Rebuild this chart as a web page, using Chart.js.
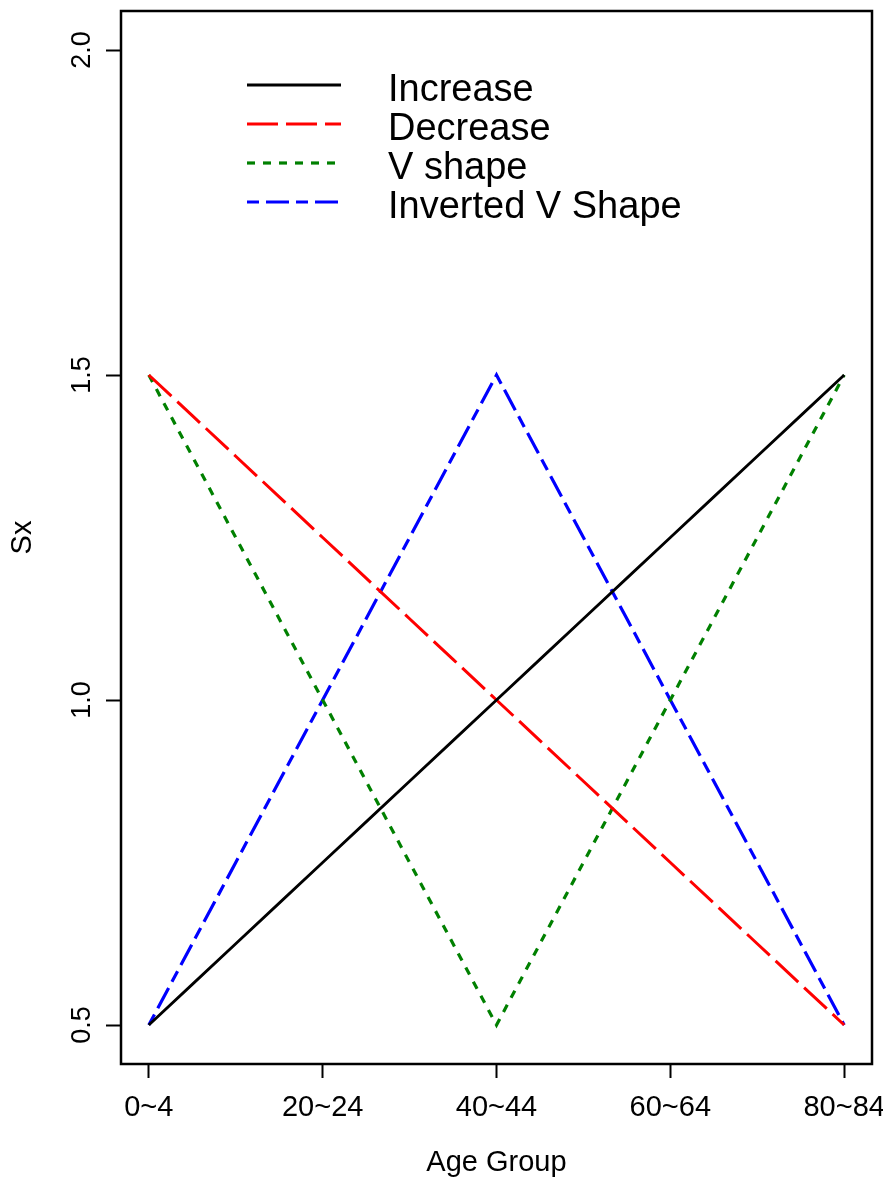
<!DOCTYPE html>
<html>
<head>
<meta charset="utf-8">
<script src="https://cdn.jsdelivr.net/npm/chart.js@4"></script>
<style>
  body { margin: 0; background: #fff; }
  canvas { display: block; }
</style>
</head>
<body>
<canvas id="grafica" width="883" height="1177"></canvas>
<script>
// age groups 0~4 ... 80~84
var ageGroups = ['0~4', '5~9', '10~14', '15~19', '20~24', '25~29', '30~34', '35~39', '40~44',
                 '45~49', '50~54', '55~59', '60~64', '65~69', '70~74', '75~79', '80~84'];
var xTickPos = [0, 4, 8, 12, 16];
var yTickVals = [0.5, 1.0, 1.5, 2.0];
var yTickLabels = ['0.5', '1.0', '1.5', '2.0'];

var seriesNames = ['Increase', 'Decrease', 'V shape', 'Inverted V Shape'];
var increase = [0.5, 0.5625, 0.625, 0.6875, 0.75, 0.8125, 0.875, 0.9375, 1.0,
                1.0625, 1.125, 1.1875, 1.25, 1.3125, 1.375, 1.4375, 1.5];
var decrease = [1.5, 1.4375, 1.375, 1.3125, 1.25, 1.1875, 1.125, 1.0625, 1.0,
                0.9375, 0.875, 0.8125, 0.75, 0.6875, 0.625, 0.5625, 0.5];
var vShape = [1.5, 1.375, 1.25, 1.125, 1.0, 0.875, 0.75, 0.625, 0.5,
              0.625, 0.75, 0.875, 1.0, 1.125, 1.25, 1.375, 1.5];
var invertedV = [0.5, 0.625, 0.75, 0.875, 1.0, 1.125, 1.25, 1.375, 1.5,
                 1.375, 1.25, 1.125, 1.0, 0.875, 0.75, 0.625, 0.5];

var fuente = 'Liberation Sans, Arial, Helvetica, sans-serif';

function puntos(valores){
    return valores.map(function(v, i){ return {x: i, y: v}; });
}

// no extra room for labels sticking out past the plot box
function sinRelleno(s){
    s.paddingTop = 0;
    s.paddingBottom = 0;
    s.paddingLeft = 0;
    s.paddingRight = 0;
}

// R style box around the plot area
var caja = {
    id: 'caja',
    afterDraw: function(chart){
        var a = chart.chartArea;
        var c = chart.ctx;
        c.save();
        c.strokeStyle = '#000';
        c.lineWidth = 2.5;
        c.strokeRect(a.left, a.top, a.right - a.left, a.bottom - a.top);
        c.restore();
    }
};

// legend drawn like R's legend(): line sample + text
var leyenda = {
    id: 'leyenda',
    afterDraw: function(chart){
        var c = chart.ctx;
        c.save();
        chart.data.datasets.forEach(function(ds, i){
            var y = 85 + i * 39;
            c.beginPath();
            c.strokeStyle = ds.borderColor;
            c.lineWidth = ds.borderWidth;
            c.setLineDash(ds.borderDash || []);
            c.moveTo(247, y);
            c.lineTo(341, y);
            c.stroke();
            c.setLineDash([]);
            c.fillStyle = '#000';
            c.font = '38px ' + fuente;
            c.textBaseline = 'middle';
            c.textAlign = 'left';
            c.fillText(ds.label, 388, y + 6);
        });
        c.restore();
    }
};

var ctx = document.getElementById('grafica').getContext('2d');
var config = {
    type: 'line',
    data: {
        datasets: [{
            label: seriesNames[0],
            data: puntos(increase),
            borderColor: '#000000',
            borderWidth: 2.8,
            borderDash: []
        }, {
            label: seriesNames[1],
            data: puntos(decrease),
            borderColor: '#ff0000',
            borderWidth: 3,
            borderDash: [31, 8]
        }, {
            label: seriesNames[2],
            data: puntos(vShape),
            borderColor: '#008000',
            borderWidth: 3.2,
            borderDash: [8, 8]
        }, {
            label: seriesNames[3],
            data: puntos(invertedV),
            borderColor: '#0000ff',
            borderWidth: 3.2,
            borderDash: [12, 7, 23, 7]
        }]
    },
    options: {
        responsive: false,
        animation: false,
        devicePixelRatio: 1,
        layout: { padding: { top: 11, right: 11, left: 0, bottom: 0 } },
        elements: {
            point: { radius: 0 },
            line: { tension: 0, borderCapStyle: 'butt', fill: false }
        },
        plugins: {
            legend: { display: false },
            tooltip: { enabled: false }
        },
        scales: {
            x: {
                type: 'linear',
                min: -0.64,
                max: 16.64,
                afterBuildTicks: function(s){
                    s.ticks = xTickPos.map(function(v){ return {value: v}; });
                },
                afterFit: function(s){ s.height = 113; sinRelleno(s); },
                ticks: {
                    autoSkip: false,
                    maxRotation: 0,
                    padding: 13,
                    color: '#000',
                    font: { family: fuente, size: 29 },
                    callback: function(v){ return ageGroups[v]; }
                },
                grid: {
                    drawOnChartArea: false,
                    drawTicks: true,
                    tickLength: 14,
                    tickWidth: 2,
                    tickColor: '#000'
                },
                border: { display: false },
                title: {
                    display: true,
                    text: 'Age Group',
                    color: '#000',
                    font: { family: fuente, size: 29, lineHeight: 1 },
                    padding: { top: 0, bottom: 0 }
                }
            },
            y: {
                type: 'linear',
                min: 0.44,
                max: 2.06,
                afterBuildTicks: function(s){
                    s.ticks = yTickVals.map(function(v){ return {value: v}; });
                },
                afterFit: function(s){ s.width = 121; sinRelleno(s); },
                ticks: {
                    minRotation: 90,
                    maxRotation: 90,
                    crossAlign: 'center',
                    padding: 5,
                    color: '#000',
                    font: { family: fuente, size: 27 },
                    callback: function(v){ return yTickLabels[yTickVals.indexOf(v)]; }
                },
                grid: {
                    drawOnChartArea: false,
                    drawTicks: true,
                    tickLength: 15,
                    tickWidth: 2,
                    tickColor: '#000'
                },
                border: { display: false },
                title: {
                    display: true,
                    text: 'Sx',
                    color: '#000',
                    font: { family: fuente, size: 29, lineHeight: 1 },
                    padding: { top: 8, bottom: 0 }
                }
            }
        }
    },
    plugins: [caja, leyenda]
};
var miGrafica = new Chart(ctx, config);
</script>
</body>
</html>
